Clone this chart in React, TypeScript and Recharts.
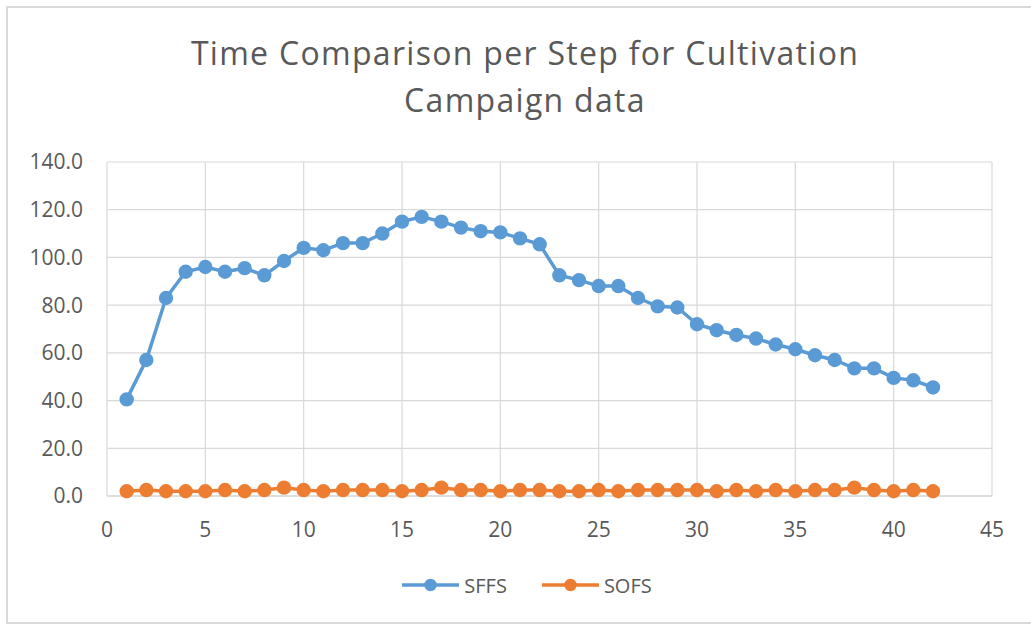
import React from "react";
import { LineChart, Line, XAxis, YAxis, CartesianGrid, Legend } from "recharts";

const steps = [1,2,3,4,5,6,7,8,9,10,11,12,13,14,15,16,17,18,19,20,21,22,23,24,25,26,27,28,29,30,31,32,33,34,35,36,37,38,39,40,41,42];
const sffs = [40.5,57.0,83.0,94.0,96.0,94.0,95.5,92.5,98.5,104.0,103.0,106.0,106.0,110.0,115.0,117.0,115.0,112.5,111.0,110.5,108.0,105.5,92.5,90.5,88.0,88.0,83.0,79.5,79.0,72.0,69.5,67.5,66.0,63.5,61.5,59.0,57.0,53.5,53.5,49.5,48.5,45.5];
const sofs = [2.0,2.5,2.0,2.0,2.0,2.5,2.0,2.5,3.5,2.5,2.0,2.5,2.5,2.5,2.0,2.5,3.5,2.5,2.5,2.0,2.5,2.5,2.0,2.0,2.5,2.0,2.5,2.5,2.5,2.5,2.0,2.5,2.0,2.5,2.0,2.5,2.5,3.5,2.5,2.0,2.5,2.0];
const xTicks = [0,5,10,15,20,25,30,35,40,45];
const yTicks = [0,20,40,60,80,100,120,140];
const titleLines = ["Time Comparison per Step for Cultivation", "Campaign data"];
const seriesNames = ["SFFS", "SOFS"];
const seriesColors = ["#5b9bd5", "#ed7d31"];

const data = steps.map((s, i) => ({ step: s, SFFS: sffs[i], SOFS: sofs[i] }));

const FONT = "'Open Sans', sans-serif";
const TEXT = "#595959";

const LegendContent = () => (
  <div style={{ display: "flex", justifyContent: "center", alignItems: "center", height: 40, fontFamily: FONT, fontSize: 20, color: TEXT }}>
    {seriesNames.map((n, i) => (
      <div key={n} style={{ display: "flex", alignItems: "center", marginLeft: i === 0 ? 0 : 35 }}>
        <svg width={57} height={16} style={{ display: "block" }}>
          <line x1={0} y1={8} x2={57} y2={8} stroke={seriesColors[i]} strokeWidth={3.5} />
          <circle cx={28.5} cy={8} r={5.5} fill={seriesColors[i]} stroke={seriesColors[i]} strokeWidth={1.5} />
        </svg>
        <span style={{ marginLeft: 5 }}>{n}</span>
      </div>
    ))}
  </div>
);

export default function App() {
  return (
    <div style={{ position: "absolute", left: 0, top: 0, width: 1031, height: 625, background: "#fff", overflow: "hidden" }}>
      <div style={{ position: "absolute", left: 6, top: 6, width: 1023, height: 614, borderLeft: "2px solid #dadada", borderTop: "2px solid #dadada", borderBottom: "2px solid #dadada" }} />
      <div style={{ position: "absolute", left: 0, top: 29, width: 1050, textAlign: "center", fontFamily: FONT, fontSize: 32, lineHeight: "47px", letterSpacing: 1.3, color: TEXT }}>
        {titleLines.map((t) => (<div key={t}>{t}</div>))}
      </div>
      <div style={{ position: "absolute", left: 0, top: 0 }}>
        <LineChart width={1031} height={625} data={data} margin={{ top: 162, right: 39, bottom: 20, left: 0 }}>
          <CartesianGrid stroke="#d9d9d9" strokeWidth={1.2} />
          <XAxis
            dataKey="step"
            type="number"
            domain={[0, 45]}
            ticks={xTicks}
            interval={0}
            height={69}
            tickSize={0}
            tickMargin={26}
            tickLine={false}
            axisLine={{ stroke: "#d0d0d0", strokeWidth: 1.2 }}
            tick={{ fill: TEXT, fontSize: 21, fontFamily: FONT }}
          />
          <YAxis
            type="number"
            domain={[0, 140]}
            ticks={yTicks}
            interval={0}
            width={107}
            tickSize={0}
            tickMargin={24}
            tickLine={false}
            axisLine={false}
            tickFormatter={(v: number) => v.toFixed(1)}
            tick={{ fill: TEXT, fontSize: 21, fontFamily: FONT }}
          />
          <Legend verticalAlign="bottom" height={40} wrapperStyle={{ left: 23, width: 1008 }} content={<LegendContent />} />
          <Line type="linear" dataKey="SFFS" stroke={seriesColors[0]} strokeWidth={3.5} isAnimationActive={false}
            dot={{ r: 6.2, fill: seriesColors[0], stroke: seriesColors[0], strokeWidth: 2 }} activeDot={false} />
          <Line type="linear" dataKey="SOFS" stroke={seriesColors[1]} strokeWidth={3.5} isAnimationActive={false}
            dot={{ r: 6.2, fill: seriesColors[1], stroke: seriesColors[1], strokeWidth: 2 }} activeDot={false} />
        </LineChart>
      </div>
    </div>
  );
}
